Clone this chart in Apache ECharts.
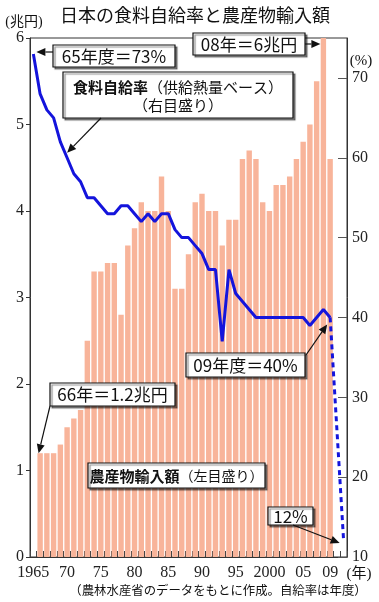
<!DOCTYPE html>
<html><head><meta charset="utf-8">
<script src="https://cdn.jsdelivr.net/npm/echarts@6/dist/echarts.min.js"></script>
<style>html,body{margin:0;padding:0;background:#fff}#c{width:379px;height:602px}</style>
</head><body><div id="c"></div>
<script>
// ---- data ----
const years = ['1965','1966','1967','1968','1969','1970','1971','1972','1973','1974',
  '1975','1976','1977','1978','1979','1980','1981','1982','1983','1984',
  '1985','1986','1987','1988','1989','1990','1991','1992','1993','1994',
  '1995','1996','1997','1998','1999','2000','2001','2002','2003','2004',
  '2005','2006','2007','2008','2009','2010','2011'];
// 農産物輸入額 (兆円)
const importValues = [null,1.2,1.2,1.2,1.3,1.5,1.6,1.7,2.5,3.3,
  3.3,3.4,3.4,2.8,3.6,3.8,4.1,4.0,4.0,4.4,
  4.0,3.1,3.1,3.5,4.1,4.2,4.0,4.0,3.6,3.9,
  3.9,4.6,4.7,4.6,4.1,4.0,4.3,4.3,4.4,4.6,
  4.8,5.0,5.5,6.0,4.6,null,null];
// 食料自給率 (%)
const selfRate = [73,68,66,65,62,60,58,57,55,55,
  54,53,53,54,54,53,52,53,52,53,
  53,51,50,50,49,48,46,46,37,46,
  43,42,41,40,40,40,40,40,40,40,
  40,39,40,41,40,null,null];
// 試算 (dashed)
const projected = [null,null,null,null,null,null,null,null,null,null,
  null,null,null,null,null,null,null,null,null,null,
  null,null,null,null,null,null,null,null,null,null,
  null,null,null,null,null,null,null,null,null,null,
  null,null,null,null,40,null,12];
const xTickYears = ['1965','1970','1975','1980','1985','1990','1995','2000','2005','2009'];
const xTickTexts = ['1965','70','75','80','85','90','95','2000','05','09'];
const leftTicks = [0,1,2,3,4,5,6];
const rightTicks = [10,20,30,40,50,60,70];

const SERIF = '"Liberation Serif","Noto Sans CJK JP",serif';
const JP = '"Noto Sans CJK JP",sans-serif';
const chart = echarts.init(document.getElementById('c'), null, {renderer:'canvas'});

const option = {
  animation:false,
  backgroundColor:'#fff',
  grid:{left:30,right:32,top:38,bottom:45,show:true,borderColor:'#333',borderWidth:1,backgroundColor:'transparent'},
  xAxis:{type:'category',data:years,boundaryGap:true,
    axisLine:{lineStyle:{color:'#333',width:1}},
    axisTick:{show:true,inside:true,length:6,interval:0,lineStyle:{color:'#444'}},
    axisLabel:{interval:(i,v)=>xTickYears.indexOf(v)>=0,
      formatter:v=>xTickTexts[xTickYears.indexOf(v)],
      fontFamily:SERIF,fontSize:16,color:'#222',margin:8}},
  yAxis:[
    {type:'value',min:0,max:6,interval:1,position:'left',
     axisLine:{show:true,lineStyle:{color:'#333'}},
     axisTick:{show:true,length:4,lineStyle:{color:'#333'}},
     axisLabel:{fontFamily:SERIF,fontSize:16,color:'#222',margin:6,
       customValues:leftTicks},
     splitLine:{show:false}},
    {type:'value',min:10,max:75,interval:10,position:'right',
     axisLine:{show:true,lineStyle:{color:'#333'}},
     axisTick:{show:true,inside:true,length:9,lineStyle:{color:'#555'},customValues:rightTicks},
     axisLabel:{fontFamily:SERIF,fontSize:16,color:'#222',margin:5,customValues:rightTicks},
     splitLine:{show:false}}
  ],
  series:[
    {type:'bar',data:importValues,yAxisIndex:0,barCategoryGap:'20%',
     itemStyle:{color:'#F8B49A'},z:2},
    {type:'line',data:selfRate,yAxisIndex:1,symbol:'none',
     lineStyle:{color:'#1414DC',width:3},z:5},
    {type:'line',data:projected,yAxisIndex:1,symbol:'none',connectNulls:true,
     lineStyle:{color:'#1414DC',width:3,type:[5,4]},z:5}
  ]
};
chart.setOption(option);

function px(cat, val, axis){ return chart.convertToPixel({xAxisIndex:0,yAxisIndex:axis}, [cat, val]); }
function box(x,y,w,h){
  return {type:'rect',z:100,shape:{x:x,y:y,width:w,height:h},
    style:{fill:'#fff',stroke:'#111',lineWidth:1.2,shadowColor:'rgba(0,0,0,0.45)',shadowOffsetX:2,shadowOffsetY:2,shadowBlur:1}};
}
function txt(x,y,text,size,rich,family){
  const s = {x:x,y:y,text:text,fill:'#111',fontSize:size,fontFamily:family||JP,align:'center',verticalAlign:'middle'};
  if(rich) s.rich = rich;
  return {type:'text',z:101,style:s};
}
function arrow(x1,y1,x2,y2){
  const dx=x2-x1, dy=y2-y1, L=Math.hypot(dx,dy), ux=dx/L, uy=dy/L, hl=9, hw=4;
  const bx=x2-ux*hl, by=y2-uy*hl;
  return [
    {type:'line',z:100,shape:{x1:x1,y1:y1,x2:bx,y2:by},style:{stroke:'#111',lineWidth:1.2}},
    {type:'polygon',z:100,shape:{points:[[x2,y2],[bx-uy*hw,by+ux*hw],[bx+uy*hw,by-ux*hw]]},style:{fill:'#111'}}
  ];
}

const p65 = px('1965',73,1);
const p70 = px('1970',60,1);
const p09 = px('2009',40,1);
const p11 = px('2011',12,1);
const b08 = px('2008',6,0);
const b66 = px('1966',1.2,0);

const g = [];
// title & axis names
g.push({type:'text',z:101,style:{x:195,y:15,text:'日本の食料自給率と農産物輸入額',fill:'#111',fontSize:18,fontFamily:JP,align:'center',verticalAlign:'middle'}});
g.push(txt(24,22,'(兆円)',14,null,SERIF));
g.push(txt(361,61,'(%)',15,null,SERIF));
g.push(txt(359,574,'(年)',15,null,SERIF));
g.push(txt(218,590,'（農林水産省のデータをもとに作成。自給率は年度）',12.4,null,JP));

// 65年度
g.push(box(53,45,122,22)); g.push(txt(114,56.5,'65年度＝73%',17));
g.push(...arrow(53,52,p65[0]+3,52));
// 08年
g.push(box(193,33,112,22)); g.push(txt(249,44.5,'08年＝6兆円',17));
g.push(...arrow(305,44,b08[0]-3,44));
// 食料自給率
g.push(box(63,72,230,46));
g.push(txt(178,87,'{b|食料自給率}{n|（供給熱量ベース）}',15,{b:{fontSize:15,fontWeight:'bold',fontFamily:JP,fill:'#111'},n:{fontSize:15,fontFamily:JP,fill:'#111'}}));
g.push(txt(178,105,'（右目盛り）',15));
g.push(...arrow(101,118,p70[0],p70[1]-5));
// 09年度
g.push(box(186,353,119,24)); g.push(txt(245.5,365.5,'09年度＝40%',17));
g.push(...arrow(306,355,p09[0]-3,p09[1]+7));
// 66年
g.push(box(50,383,125,23)); g.push(txt(112.5,395,'66年＝1.2兆円',17));
g.push(...arrow(50,406,b66[0]-1.5,b66[1]));
// 農産物輸入額
g.push(box(88,463,177,25));
g.push(txt(176.5,476,'{b|農産物輸入額}{n|（左目盛り）}',15,{b:{fontSize:15,fontWeight:'bold',fontFamily:JP,fill:'#111'},n:{fontSize:14,fontFamily:JP,fill:'#111'}}));
// 12%
g.push(box(268,507,45,18)); g.push(txt(290.5,516.5,'12%',17));
g.push(...arrow(293,525,p11[0]-4,p11[1]+2));

chart.setOption({graphic:{elements:g}});
</script></body></html>
